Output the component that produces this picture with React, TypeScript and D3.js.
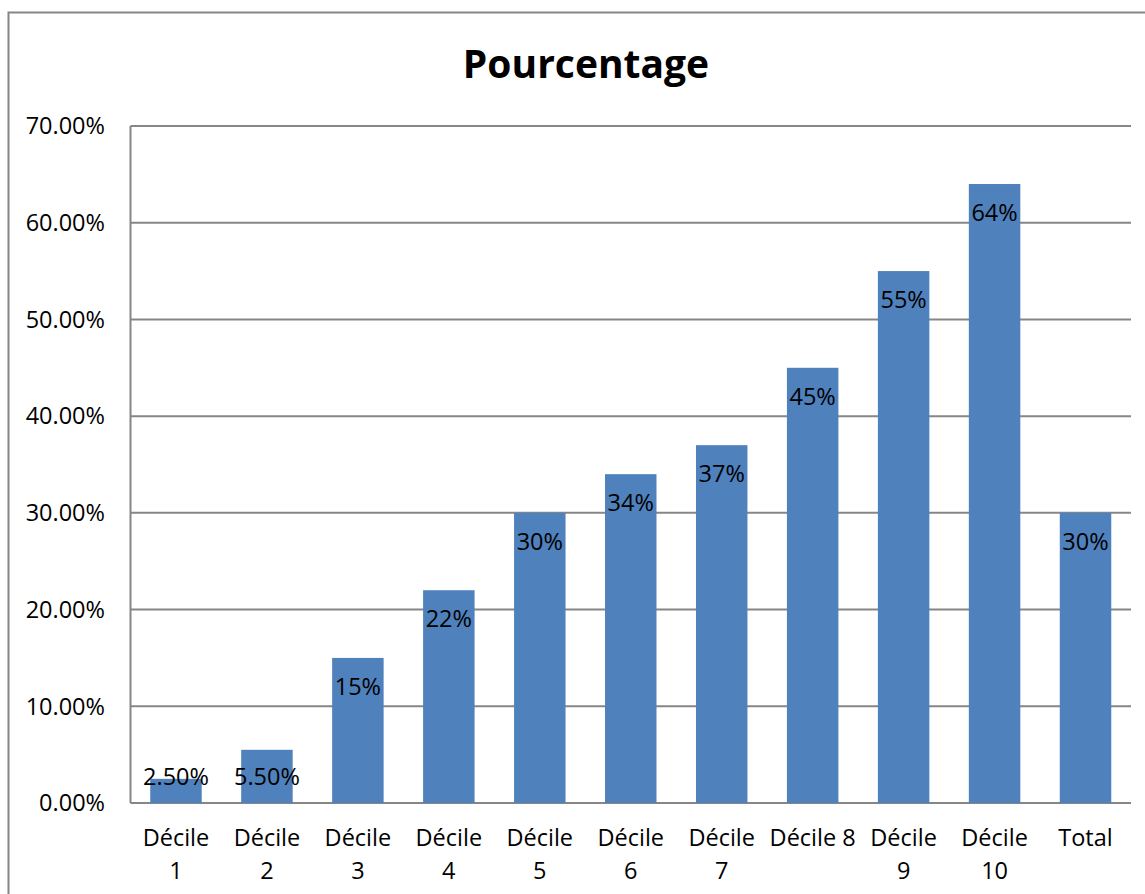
import React from "react";
import * as d3 from "d3";

// chart data
const categories = ["Décile 1", "Décile 2", "Décile 3", "Décile 4", "Décile 5", "Décile 6", "Décile 7", "Décile 8", "Décile 9", "Décile 10", "Total"];
const tickLines = [["Décile", "1"], ["Décile", "2"], ["Décile", "3"], ["Décile", "4"], ["Décile", "5"], ["Décile", "6"], ["Décile", "7"], ["Décile 8"], ["Décile", "9"], ["Décile", "10"], ["Total"]];
const values = [0.025, 0.055, 0.15, 0.22, 0.3, 0.34, 0.37, 0.45, 0.55, 0.64, 0.3];
const valueLabels = ["2.50%", "5.50%", "15%", "22%", "30%", "34%", "37%", "45%", "55%", "64%", "30%"];
const yTicks = [0, 0.1, 0.2, 0.3, 0.4, 0.5, 0.6, 0.7];

const W = 1145, H = 894;
const FONT = "'Open Sans', 'Noto Sans', sans-serif";
const FS = 23.5;

export default function App() {
  const x = d3.scaleBand<string>()
    .domain(categories)
    .range([130.5, 1131])
    .paddingInner(0.434)
    .paddingOuter(0.217);

  const y = d3.scaleLinear().domain([0, 0.7]).range([803, 126]);
  const y0 = y(0);

  return (
    <div style={{ position: "absolute", left: 0, top: 0 }}>
      <svg width={W} height={H} style={{ display: "block" }} fontFamily={FONT}>
        <rect x={0} y={0} width={W} height={H} fill="#fff" />
        {/* outer chart border, runs off the page on right/bottom */}
        <rect x={8.5} y={12.5} width={1300} height={1000} fill="none" stroke="#868686" strokeWidth={2} />

        <text x={586} y={78} textAnchor="middle" fontSize={39} fontWeight="bold" fill="#000">Pourcentage</text>

        {/* gridlines */}
        {yTicks.map(t => (
          <line key={t} x1={130.5} x2={1131} y1={y(t)} y2={y(t)} stroke="#868686" strokeWidth={2} />
        ))}
        <line x1={130.5} x2={130.5} y1={y(0.7)} y2={y0} stroke="#868686" strokeWidth={2} />

        {/* y tick labels */}
        {yTicks.map(t => (
          <text key={"l" + t} x={105} y={y(t)} dy="0.35em" textAnchor="end" fontSize={FS} fill="#000">
            {d3.format(".2f")(t * 100) + "%"}
          </text>
        ))}

        {/* bars */}
        {categories.map((c, i) => (
          <rect key={c} x={x(c)} y={y(values[i])} width={x.bandwidth()} height={y0 - y(values[i])} fill="#4F81BD" />
        ))}

        {/* value labels, inside end */}
        {categories.map((c, i) => (
          <text key={"v" + c} x={(x(c) as number) + x.bandwidth() / 2}
            y={Math.min(y(values[i]) + 37, y0 - 18)}
            textAnchor="middle" fontSize={FS} fill="#000">
            {valueLabels[i]}
          </text>
        ))}

        {/* x tick labels */}
        {categories.map((c, i) => (
          <text key={"x" + c} x={(x(c) as number) + x.bandwidth() / 2} y={846} textAnchor="middle" fontSize={FS} fill="#000">
            {tickLines[i].map((s, j) => (
              <tspan key={j} x={(x(c) as number) + x.bandwidth() / 2} dy={j === 0 ? 0 : 33}>{s}</tspan>
            ))}
          </text>
        ))}
      </svg>
    </div>
  );
}
